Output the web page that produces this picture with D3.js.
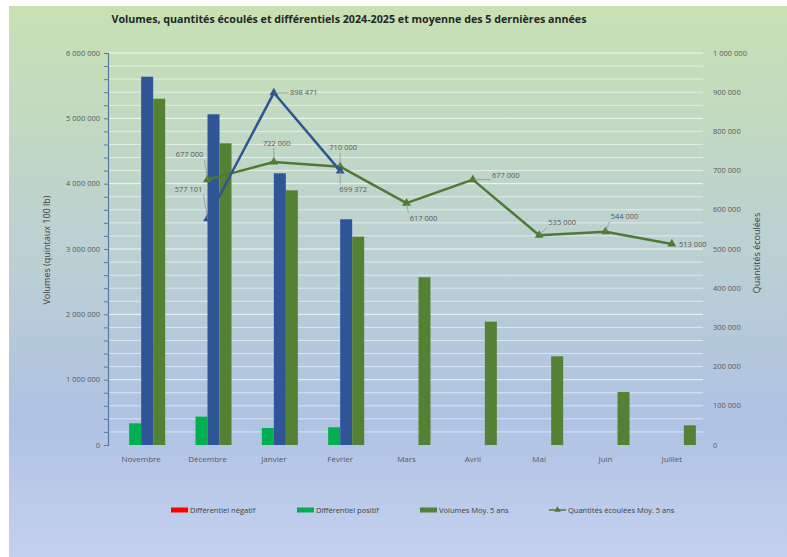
<!DOCTYPE html>
<html>
<head>
<meta charset="utf-8">
<script src="https://cdn.jsdelivr.net/npm/d3@7"></script>
<style>
  html, body { margin: 0; padding: 0; background: #fff; }
  text { font-family: "Open Sans", "Liberation Sans", sans-serif; }
</style>
</head>
<body>
<div id="chart"></div>
<script>
const months = ["Novembre", "Décembre", "Janvier", "Février", "Mars", "Avril", "Mai", "Juin", "Juillet"];

// volumes (axe de gauche)
const diffNegatif = [null, null, null, null, null, null, null, null, null];
const diffPositif = [332000, 434000, 260000, 271000, null, null, null, null, null];
const volumes2425 = [5637000, 5062000, 4159000, 3455000, null, null, null, null, null];
const volumesMoy = [5300000, 4618000, 3898000, 3189000, 2567000, 1888000, 1357000, 811000, 301000];

// quantités écoulées (axe de droite)
const qteMoy = [null, 677000, 722000, 710000, 617000, 677000, 535000, 544000, 513000];
const qte2425 = [null, 577101, 898471, 699372, null, null, null, null, null];

const leftTicks = [0, 1000000, 2000000, 3000000, 4000000, 5000000, 6000000];
const rightTicks = [0, 100000, 200000, 300000, 400000, 500000, 600000, 700000, 800000, 900000, 1000000];

const W = 787, H = 557;
const plot = { left: 108, right: 705, top: 53, bottom: 445 };

const svg = d3.select("#chart").append("svg")
    .attr("width", W)
    .attr("height", H);

// fond en dégradé
const defs = svg.append("defs");
const grad = defs.append("linearGradient")
    .attr("id", "bg")
    .attr("x1", 0).attr("y1", 0).attr("x2", 0).attr("y2", 1);
grad.append("stop").attr("offset", "0%").attr("stop-color", "#c8e1b3");
grad.append("stop").attr("offset", "45%").attr("stop-color", "#bcd0d3");
grad.append("stop").attr("offset", "75%").attr("stop-color", "#afc2e3");
grad.append("stop").attr("offset", "100%").attr("stop-color", "#c4d1ee");

svg.append("rect")
    .attr("x", 9).attr("y", 6)
    .attr("width", W - 9).attr("height", H - 6)
    .attr("fill", "url(#bg)");

const fmt = v => d3.format(",")(v).replace(/,/g, " ");

const x0 = d3.scaleBand()
    .domain(months)
    .range([plot.left, plot.right])
    .paddingInner(0.276)
    .paddingOuter(0.138);

const seriesKeys = ["neg", "pos", "vol", "moy"];
const x1 = d3.scaleBand()
    .domain(seriesKeys)
    .range([0, x0.bandwidth()]);

const yL = d3.scaleLinear().domain([0, 6000000]).range([plot.bottom, plot.top]);
const yR = d3.scaleLinear().domain([0, 1000000]).range([plot.bottom, plot.top]);

// quadrillage
const gridVals = d3.range(200000, 6000001, 200000);
svg.append("g").selectAll("line")
    .data(gridVals)
    .enter().append("line")
    .attr("x1", plot.left).attr("x2", plot.right - 2)
    .attr("y1", d => yL(d)).attr("y2", d => yL(d))
    .attr("stroke", "#ffffff")
    .attr("stroke-opacity", d => d % 1000000 === 0 ? 0.8 : 0.55)
    .attr("stroke-width", 1);

// barres
const colors = { neg: "#ff0000", pos: "#00b050", vol: "#2f5597", moy: "#548235" };
const barSeries = { neg: diffNegatif, pos: diffPositif, vol: volumes2425, moy: volumesMoy };

seriesKeys.forEach(k => {
    svg.append("g").selectAll("rect")
        .data(months.map((m, i) => ({ m, v: barSeries[k][i] })).filter(d => d.v != null))
        .enter().append("rect")
        .attr("x", d => x0(d.m) + x1(k))
        .attr("y", d => yL(d.v))
        .attr("width", x1.bandwidth())
        .attr("height", d => yL(0) - yL(d.v))
        .attr("fill", colors[k]);
});

// axe de gauche
const axL = svg.append("g")
    .attr("transform", `translate(${plot.left},0)`)
    .call(d3.axisLeft(yL).tickValues(gridVals.concat([0])).tickSize(4).tickFormat(""));
axL.select(".domain").attr("stroke", "#5a7aa6").attr("stroke-width", 1.2);
axL.selectAll(".tick line").attr("stroke", "#5a7aa6");

svg.append("g").selectAll("text")
    .data(leftTicks)
    .enter().append("text")
    .attr("x", plot.left - 8)
    .attr("y", d => yL(d))
    .attr("dy", "0.35em")
    .attr("text-anchor", "end")
    .attr("font-size", 7.5)
    .attr("fill", "#595959")
    .text(fmt);

// axe de droite
svg.append("g").selectAll("text")
    .data(rightTicks)
    .enter().append("text")
    .attr("x", 713)
    .attr("y", d => yR(d))
    .attr("dy", "0.35em")
    .attr("text-anchor", "start")
    .attr("font-size", 7.5)
    .attr("fill", "#595959")
    .text(fmt);

// étiquettes des mois
svg.append("g").selectAll("text")
    .data(months)
    .enter().append("text")
    .attr("x", d => x0(d) + x0.bandwidth() / 2)
    .attr("y", 459)
    .attr("dy", "0.35em")
    .attr("text-anchor", "middle")
    .attr("font-size", 8)
    .attr("fill", "#595959")
    .text(d => d);

// titres des axes
svg.append("text")
    .attr("transform", "translate(47,250) rotate(-90)")
    .attr("text-anchor", "middle")
    .attr("dy", "0.35em")
    .attr("font-size", 9)
    .attr("fill", "#404040")
    .text("Volumes (quintaux 100 lb)");

svg.append("text")
    .attr("transform", "translate(757,253) rotate(-90)")
    .attr("text-anchor", "middle")
    .attr("dy", "0.35em")
    .attr("font-size", 9)
    .attr("fill", "#404040")
    .text("Quantités écoulées");

// titre
svg.append("text")
    .attr("x", 349)
    .attr("y", 23)
    .attr("text-anchor", "middle")
    .attr("font-size", 10.7)
    .attr("font-weight", "bold")
    .attr("fill", "#262626")
    .text("Volumes, quantités écoulés et différentiels 2024-2025 et moyenne des 5 dernières années");

// lignes
const cx = m => x0(m) + x0.bandwidth() / 2;
const triangle = d3.symbol().type(d3.symbolTriangle).size(34);

function drawLine(values, color) {
    const pts = months.map((m, i) => ({ m, v: values[i] })).filter(d => d.v != null);
    svg.append("path")
        .datum(pts)
        .attr("fill", "none")
        .attr("stroke", color)
        .attr("stroke-width", 2.5)
        .attr("stroke-linejoin", "round")
        .attr("d", d3.line().x(d => cx(d.m)).y(d => yR(d.v)));
    svg.append("g").selectAll("path")
        .data(pts)
        .enter().append("path")
        .attr("transform", d => `translate(${cx(d.m)},${yR(d.v)})`)
        .attr("d", triangle)
        .attr("fill", color);
    return pts;
}

drawLine(qteMoy, "#4f7a34");
drawLine(qte2425, "#2f5597");

// étiquettes de données (décalage par rapport au point)
const offMoy = [null, [-18, -25], [3, -19], [3, -19], [17, 15], [33, -4], [23, -13], [19, -15], [21, 0]];
const offCur = [null, [-19, -29], [30, 0], [13, 19], null, null, null, null, null];

function drawLabels(values, offs) {
    values.forEach((v, i) => {
        if (v == null) return;
        const mx = cx(months[i]), my = yR(v);
        const lx = mx + offs[i][0], ly = my + offs[i][1];
        const hw = 15, hh = 5;
        const px = Math.max(lx - hw, Math.min(mx, lx + hw));
        const py = Math.max(ly - hh, Math.min(my, ly + hh));
        if (Math.hypot(px - mx, py - my) > 7) {
            svg.append("line")
                .attr("x1", mx).attr("y1", my)
                .attr("x2", px).attr("y2", py)
                .attr("stroke", "#8c8c8c")
                .attr("stroke-width", 0.7);
        }
        svg.append("text")
            .attr("x", lx).attr("y", ly)
            .attr("dy", "0.35em")
            .attr("text-anchor", "middle")
            .attr("font-size", 7.5)
            .attr("fill", "#595959")
            .text(fmt(v));
    });
}
drawLabels(qteMoy, offMoy);
drawLabels(qte2425, offCur);

// légende
const legend = [
    { label: "Différentiel négatif", color: colors.neg, x: 171, type: "bar" },
    { label: "Différentiel positif", color: colors.pos, x: 297, type: "bar" },
    { label: "Volumes Moy. 5 ans", color: colors.moy, x: 420, type: "bar" },
    { label: "Quantités écoulées Moy. 5 ans", color: "#4f7a34", x: 549, type: "line" }
];
const lg = svg.append("g").selectAll("g")
    .data(legend)
    .enter().append("g")
    .attr("transform", d => `translate(${d.x},510)`);
lg.filter(d => d.type === "bar").append("rect")
    .attr("x", 0).attr("y", -2.5)
    .attr("width", 17).attr("height", 5)
    .attr("fill", d => d.color);
lg.filter(d => d.type === "line").append("line")
    .attr("x1", 0).attr("x2", 17)
    .attr("stroke", d => d.color).attr("stroke-width", 1.5);
lg.filter(d => d.type === "line").append("path")
    .attr("transform", "translate(8.5,0)")
    .attr("d", d3.symbol().type(d3.symbolTriangle).size(18))
    .attr("fill", d => d.color);
lg.append("text")
    .attr("x", 19)
    .attr("dy", "0.35em")
    .attr("font-size", 7.5)
    .attr("fill", "#404040")
    .text(d => d.label);
</script>
</body>
</html>
